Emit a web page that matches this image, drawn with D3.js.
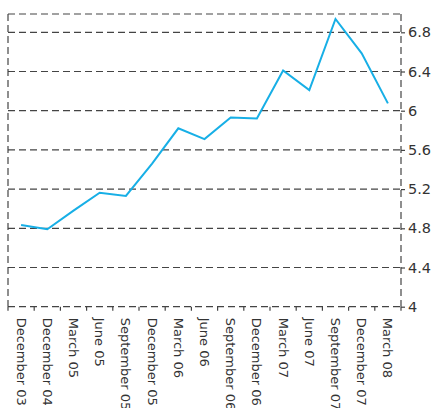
<!DOCTYPE html>
<html><head><meta charset="utf-8">
<script src="https://cdn.jsdelivr.net/npm/d3@7"></script>
<style>body{margin:0;background:#fff}svg{display:block}</style>
</head><body><svg id="c" width="438" height="408"></svg>
<script>
const categories = ["December 03","December 04","March 05","June 05","September 05","December 05","March 06","June 06","September 06","December 06","March 07","June 07","September 07","December 07","March 08"];
const values = [4.834,4.79,4.98,5.163,5.13,5.46,5.82,5.71,5.93,5.92,6.41,6.21,6.936,6.585,6.075];
const yTicks = [4,4.4,4.8,5.2,5.6,6,6.4,6.8];

const svg = d3.select("#c");
const L = 8, R = 401, T = 14, B = 306.7;
const x = d3.scaleBand().domain(categories).range([L, R]).padding(0);
const y = d3.scaleLinear().domain([4, 6.8]).range([B, 32.3]);
const gridCol = "#444", dash = "7,4";
const font = "'DejaVu Sans', sans-serif";

// grid lines
svg.append("g").selectAll("line").data(yTicks.slice(1)).join("line")
  .attr("x1", L).attr("x2", R).attr("y1", d => y(d)).attr("y2", d => y(d))
  .attr("stroke", gridCol).attr("stroke-width", 1.2).attr("stroke-dasharray", dash);
// frame
const frame = svg.append("g").attr("stroke", gridCol).attr("stroke-width", 1.2).attr("stroke-dasharray", dash).attr("fill","none");
frame.append("line").attr("x1", L).attr("x2", R).attr("y1", T).attr("y2", T);
frame.append("line").attr("x1", L).attr("x2", L).attr("y1", T).attr("y2", B);
frame.append("line").attr("x1", R).attr("x2", R).attr("y1", T).attr("y2", B);
frame.append("line").attr("x1", L).attr("x2", R).attr("y1", B).attr("y2", B);

// right axis
const ya = svg.append("g").attr("transform", `translate(${R},0)`)
  .call(d3.axisRight(y).tickValues(yTicks).tickFormat(d3.format("")).tickSize(4).tickPadding(3));
ya.select(".domain").remove();
ya.selectAll("line").attr("stroke", gridCol).attr("stroke-width", 1.2);
ya.selectAll("text").attr("font-family", font).attr("font-size", 14.5).attr("fill", "#333");

// bottom ticks at band boundaries
const bounds = categories.map(c => x(c)).concat([x(categories[categories.length-1]) + x.bandwidth()]);
svg.append("g").selectAll("line").data(bounds).join("line")
  .attr("x1", d => d).attr("x2", d => d).attr("y1", B).attr("y2", B + 4)
  .attr("stroke", gridCol).attr("stroke-width", 1.2);

// bottom labels
const xa = svg.append("g").attr("transform", `translate(0,${B})`)
  .call(d3.axisBottom(x).tickSize(0).tickPadding(0));
xa.select(".domain").remove();
xa.selectAll("text")
  .attr("font-family", font).attr("font-size", 13).attr("fill", "#333")
  .attr("text-anchor", "start").attr("dy", "0.35em").attr("y", 0)
  .attr("transform", "translate(0,11) rotate(90)");

// line
svg.append("path").datum(values)
  .attr("fill", "none").attr("stroke", "#17afe6").attr("stroke-width", 2)
  .attr("stroke-linejoin", "miter")
  .attr("d", d3.line().x((d, i) => x(categories[i]) + x.bandwidth() / 2).y(d => y(d)));
</script></body></html>
